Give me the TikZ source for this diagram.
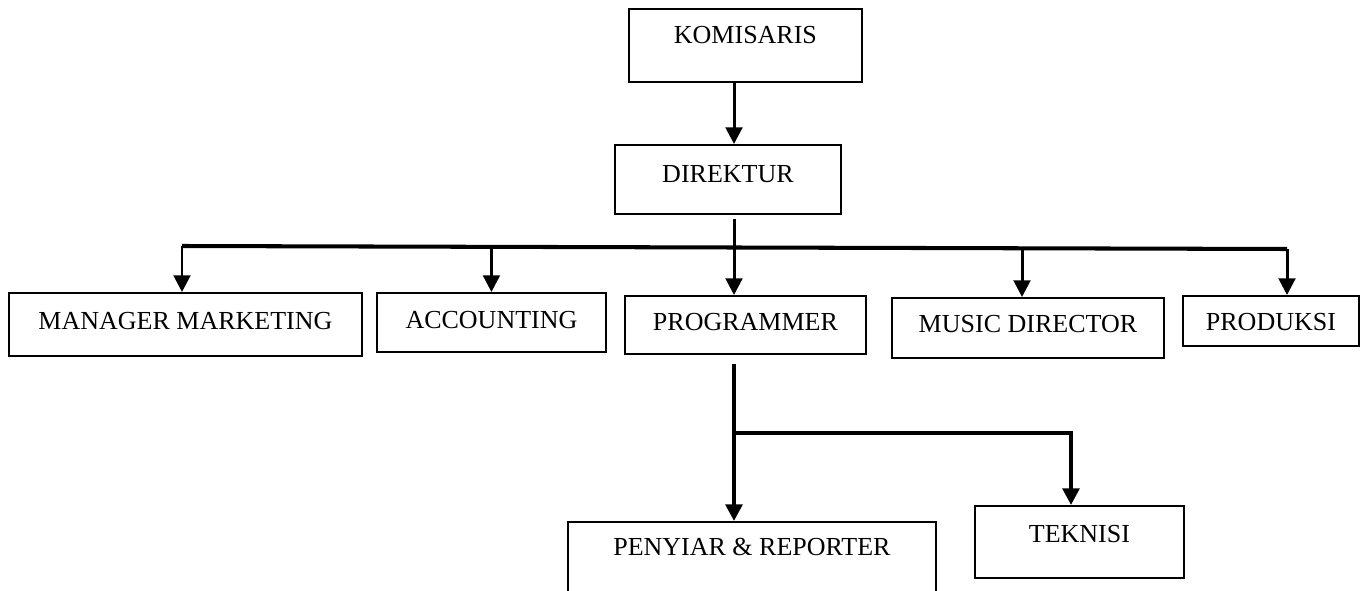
\documentclass[tikz,border=0pt]{standalone}
\usepackage{fontspec}
\setmainfont{Liberation Serif}
\usetikzlibrary{arrows.meta,positioning}

\tikzset{
  kotak/.style={draw, line width=1.1pt, inner sep=0pt, anchor=north west,
    font=\fontsize{14.8}{17}\selectfont},
  panah/.style={line width=1.7pt, -{Triangle[length=9.5pt,width=9.5pt]}},
  bus/.style={line width=2.3pt}
}

\begin{document}
\begin{tikzpicture}[x=0.02cm,y=-0.02cm]
\clip (0,0) rectangle (1365,591);
\fill[white] (0,0) rectangle (1365,591);

\node[kotak, minimum width=4.66cm, text height=0.70cm, text depth=0.76cm] (komisaris) at (628,8) {KOMISARIS};
\node[kotak, minimum width=4.52cm, text height=0.76cm, text depth=0.62cm] (direktur) at (614,144) {DIREKTUR};

\node[kotak, minimum width=7.06cm, text height=0.74cm, text depth=0.52cm] (marketing) at (8,292) {MANAGER MARKETING};
\node[kotak, minimum width=4.58cm, text height=0.72cm, text depth=0.46cm] (accounting) at (376,292) {ACCOUNTING};
\node[kotak, minimum width=4.82cm, text height=0.70cm, text depth=0.46cm] (programmer) at (624,295) {PROGRAMMER};
\node[kotak, minimum width=5.44cm, text height=0.70cm, text depth=0.50cm] (music) at (891,297) {MUSIC DIRECTOR};
\node[kotak, minimum width=3.52cm, text height=0.70cm, text depth=0.30cm] (produksi) at (1182,295) {PRODUKSI};

\node[kotak, minimum width=7.36cm, text height=0.68cm, text depth=1.60cm] (penyiar) at (567,521) {PENYIAR \& REPORTER};
\node[kotak, minimum width=4.18cm, text height=0.74cm, text depth=0.70cm] (teknisi) at (974,505) {TEKNISI};

% titik bantu
\coordinate (sumbu) at (734,0);
\coordinate (busL) at (182,246);
\coordinate (busR) at (1287,249);
\coordinate (musicx) at (1022,248);
\coordinate (cabang) at (734,433);
\coordinate (teknisix) at (1071,433);

\draw[panah] (komisaris.south -| sumbu) -- (direktur.north -| sumbu);
\draw[bus] (busL) -- (busR);
\draw[panah, shorten <=2.3pt] (direktur.south -| sumbu) -- (programmer.north -| sumbu);
\draw[panah] (busL) -- (busL |- marketing.north);
\draw[panah] ([yshift=-0.8pt]accounting.north |- busL) -- (accounting.north);
\draw[panah] (musicx) -- (musicx |- music.north);
\draw[panah] (busR) -- (busR |- produksi.north);

\draw[panah, line width=2.2pt, shorten <=5pt] (programmer.south -| sumbu) -- (penyiar.north -| sumbu);
\draw[panah, line width=2.2pt] (cabang) -- (teknisix) -- (teknisix |- teknisi.north);
\end{tikzpicture}
\end{document}
